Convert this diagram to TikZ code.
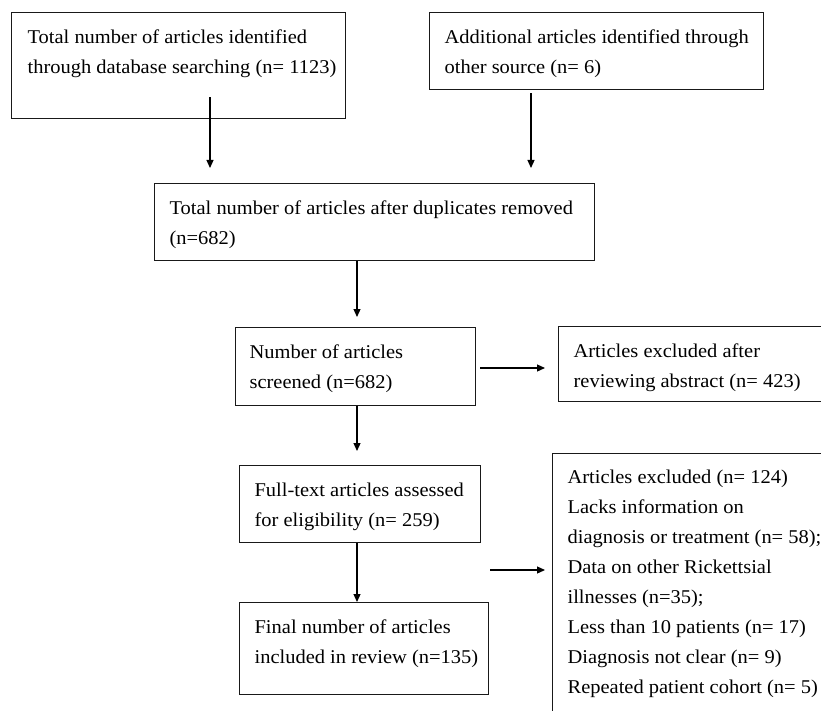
\documentclass[tikz,border=0pt]{standalone}
\usepackage{fontspec}
\setmainfont[FakeStretch=1.05]{Liberation Serif}
\usetikzlibrary{arrows.meta}
\newcommand\txtlines[1]{\begin{tabular}[t]{@{}l@{}}#1\end{tabular}}
\newcommand\boxtext[3]{\makebox[#1pt][l]{\hspace{#2pt}\txtlines{#3}}}
\begin{document}
\begin{tikzpicture}[x=1pt,y=-1pt,
  font=\fontsize{19.5}{29.5}\selectfont,
  fbox/.style={draw=black!90, line width=1.2pt, anchor=north west, inner sep=0pt, text height=31pt},
  arr/.style={draw=black, line width=1.2pt, -{Triangle[length=8pt,width=7pt]}}]
\useasboundingbox (0,0) rectangle (821,711);
\clip (0,0) rectangle (821,711);

\node[fbox, text depth=75pt] (A) at (11,12)
  {\boxtext{334}{16}{Total number of articles identified\\through database searching (n= 1123)}};
\node[fbox, text depth=46pt] (B) at (429,12)
  {\boxtext{334}{15}{Additional articles identified through\\other source (n= 6)}};
\node[fbox, text depth=46pt] (C) at (154,183)
  {\boxtext{440}{15}{Total number of articles after duplicates removed\\(n=682)}};
\node[fbox, text depth=47pt] (D) at (235,327)
  {\boxtext{240}{14}{Number of articles\\screened (n=682)}};
\node[fbox, text depth=44pt] (E) at (558,326)
  {\boxtext{322}{15}{Articles excluded after\\reviewing abstract (n= 423)}};
\node[fbox, text depth=46pt] (F) at (239,465)
  {\boxtext{241}{15}{Full-text articles assessed\\for eligibility (n= 259)}};
\node[fbox, text depth=61pt] (G) at (239,602)
  {\boxtext{249}{15}{Final number of articles\\included in review (n=135)}};
\node[fbox, text height=30pt, text depth=277pt, font=\fontsize{19.5}{30}\selectfont] (H) at (552,453)
  {\boxtext{328}{15}{Articles excluded (n= 124)\\Lacks information on\\diagnosis or treatment (n= 58);\\Data on other Rickettsial\\illnesses (n=35);\\Less than 10 patients (n= 17)\\Diagnosis not clear (n= 9)\\Repeated patient cohort (n= 5)}};

\coordinate (colA) at (210,0);
\coordinate (colB) at (531,0);
\coordinate (colM) at (357,0);
\coordinate (rowDE) at (0,368);
\coordinate (rowH) at (0,570);

\draw[arr, shorten <=-22pt, shorten >=15pt] (colA |- A.south) -- (colA |- C.north);
\draw[arr, shorten <=3pt, shorten >=15pt] (colB |- B.south) -- (colB |- C.north);
\draw[arr, shorten >=10pt] (colM |- C.south) -- (colM |- D.north);
\draw[arr, shorten <=4pt, shorten >=13pt] (D.east |- rowDE) -- (E.west |- rowDE);
\draw[arr, shorten >=14pt] (colM |- D.south) -- (colM |- F.north);
\draw[arr] (colM |- F.south) -- (colM |- G.north);
\draw[arr, shorten <=1pt, shorten >=7pt] (G.east |- rowH) -- (H.west |- rowH);
\end{tikzpicture}
\end{document}
